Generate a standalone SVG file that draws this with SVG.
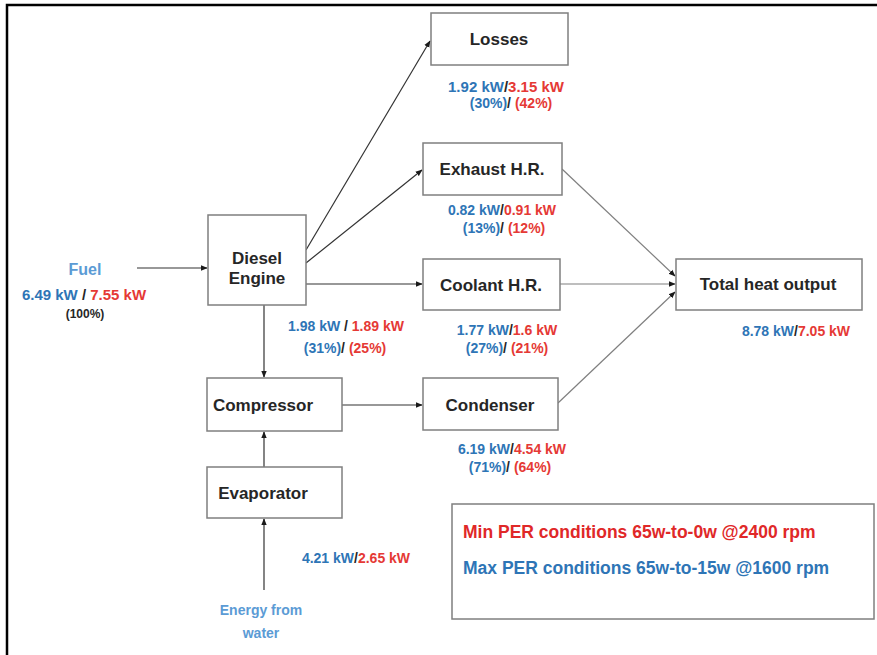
<svg xmlns="http://www.w3.org/2000/svg" width="877" height="655" viewBox="0 0 877 655">
<defs>
<marker id="ah" viewBox="0 0 10 10" refX="9" refY="5" markerWidth="7" markerHeight="7" orient="auto" markerUnits="userSpaceOnUse">
<path d="M0,1 L10,5 L0,9 z" fill="#1a1a1a"/>
</marker>
<style>
.box{fill:#fff;stroke:#7f7f7f;stroke-width:1.5}
.lbl{font-family:"Liberation Sans",Arial,sans-serif;font-weight:bold;font-size:17px;fill:#262626;text-anchor:middle}
.num{font-family:"Liberation Sans",Arial,sans-serif;font-weight:bold;font-size:14px;text-anchor:middle}
.b{fill:#2e75b6}
.lb{fill:#5b9bd5}
.r{fill:#e53935}
.k{fill:#262626}
.con{stroke:#333;stroke-width:1.2;fill:none;marker-end:url(#ah)}
.gcon{stroke:#7f7f7f;stroke-width:1.2;fill:none;marker-end:url(#ah)}
.leg{font-family:"Liberation Sans",Arial,sans-serif;font-weight:bold;font-size:17.5px}
</style>
</defs>
<rect width="877" height="655" fill="#fff"/>
<path d="M7,655 L7,5 L877,5" fill="none" stroke="#000" stroke-width="2.5"/>

<g id="connectors">
<line class="con" x1="137" y1="268" x2="207" y2="268"/>
<line class="con" x1="306" y1="250" x2="430" y2="41"/>
<line class="con" x1="306" y1="263" x2="422" y2="170"/>
<line class="con" x1="306" y1="284" x2="422" y2="284"/>
<line class="con" x1="264" y1="305" x2="264" y2="377"/>
<line class="con" x1="264" y1="467" x2="264" y2="432"/>
<line class="con" x1="264" y1="590" x2="264" y2="519"/>
<line class="con" x1="342" y1="405" x2="422" y2="405"/>
<line class="gcon" x1="562" y1="169" x2="675" y2="276"/>
<line class="gcon" x1="560" y1="284" x2="675" y2="284"/>
<line class="gcon" x1="558" y1="403" x2="675" y2="292"/>
</g>

<g id="fuel">
<text class="num lb" x="85" y="275" style="font-size:16px">Fuel</text>
<text class="num" x="84" y="300" style="font-size:15px"><tspan class="b">6.49 kW </tspan><tspan class="k">/ </tspan><tspan class="r">7.55 kW</tspan></text>
<text class="num k" x="85" y="318" style="font-size:12px">(100%)</text>
</g>

<g id="diesel">
<rect class="box" x="208" y="215" width="98" height="90"/>
<text class="lbl" x="257" y="264">Diesel</text>
<text class="lbl" x="257" y="284">Engine</text>
<text class="num" x="346" y="331"><tspan class="b">1.98 kW </tspan><tspan class="k">/ </tspan><tspan class="r">1.89 kW</tspan></text>
<text class="num" x="345" y="353"><tspan class="b">(31%)</tspan><tspan class="k">/ </tspan><tspan class="r">(25%)</tspan></text>
</g>

<g id="losses">
<rect class="box" x="431" y="13" width="137" height="52"/>
<text class="lbl" x="499" y="45">Losses</text>
<text class="num" x="506" y="92" style="font-size:15px"><tspan class="b">1.92 kW</tspan><tspan class="k">/</tspan><tspan class="r">3.15 kW</tspan></text>
<text class="num" x="511" y="108"><tspan class="b">(30%)</tspan><tspan class="k">/ </tspan><tspan class="r">(42%)</tspan></text>
</g>

<g id="exhaust">
<rect class="box" x="423" y="143" width="139" height="52"/>
<text class="lbl" x="492" y="175">Exhaust H.R.</text>
<text class="num" x="502" y="215"><tspan class="b">0.82 kW</tspan><tspan class="k">/</tspan><tspan class="r">0.91 kW</tspan></text>
<text class="num" x="504" y="233"><tspan class="b">(13%)</tspan><tspan class="k">/ </tspan><tspan class="r">(12%)</tspan></text>
</g>

<g id="coolant">
<rect class="box" x="423" y="259" width="137" height="51"/>
<text class="lbl" x="491" y="291">Coolant H.R.</text>
<text class="num" x="507" y="335"><tspan class="b">1.77 kW</tspan><tspan class="k">/</tspan><tspan class="r">1.6 kW</tspan></text>
<text class="num" x="507" y="353"><tspan class="b">(27%)</tspan><tspan class="k">/ </tspan><tspan class="r">(21%)</tspan></text>
</g>

<g id="condenser">
<rect class="box" x="423" y="378" width="135" height="52"/>
<text class="lbl" x="490" y="411">Condenser</text>
<text class="num" x="512" y="454"><tspan class="b">6.19 kW</tspan><tspan class="k">/</tspan><tspan class="r">4.54 kW</tspan></text>
<text class="num" x="510" y="472"><tspan class="b">(71%)</tspan><tspan class="k">/ </tspan><tspan class="r">(64%)</tspan></text>
</g>

<g id="total">
<rect class="box" x="676" y="259" width="186" height="51"/>
<text class="lbl" x="768" y="290">Total heat output</text>
<text class="num" x="796" y="336"><tspan class="b">8.78 kW</tspan><tspan class="k">/</tspan><tspan class="r">7.05 kW</tspan></text>
</g>

<g id="compressor">
<rect class="box" x="207" y="378" width="135" height="53"/>
<text class="lbl" x="263" y="411">Compressor</text>
</g>

<g id="evaporator">
<rect class="box" x="207" y="467" width="135" height="51"/>
<text class="lbl" x="263" y="499">Evaporator</text>
</g>

<g id="water">
<text class="num lb" x="261" y="615">Energy from</text>
<text class="num lb" x="261" y="638">water</text>
<text class="num" x="356" y="563"><tspan class="b">4.21 kW</tspan><tspan class="k">/</tspan><tspan class="r">2.65 kW</tspan></text>
</g>

<g id="legend">
<rect x="452" y="504" width="422" height="115" fill="#fff" stroke="#7f7f7f" stroke-width="1.5"/>
<text class="leg" x="463" y="538" fill="#e02828">Min PER conditions 65w-to-0w @2400 rpm</text>
<text class="leg" x="463" y="574" fill="#2e75b6">Max PER conditions 65w-to-15w @1600 rpm</text>
</g>
</svg>
